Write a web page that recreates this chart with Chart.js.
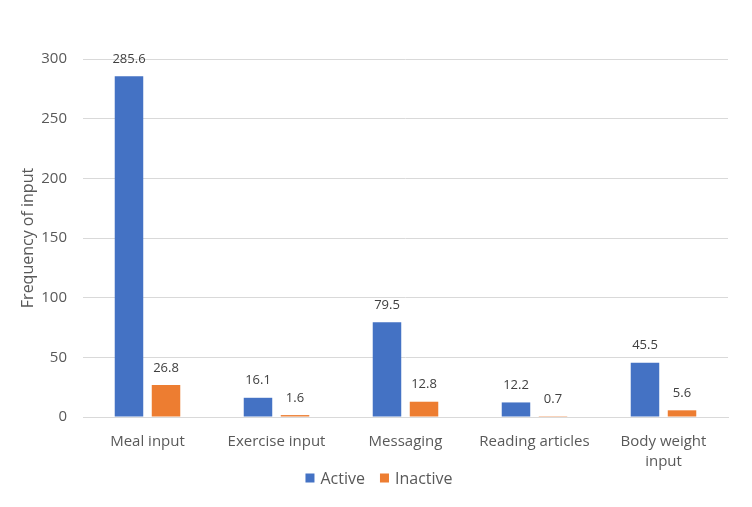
<!DOCTYPE html>
<html><head><meta charset="utf-8">
<script src="https://cdn.jsdelivr.net/npm/chart.js@4"></script>
<style>html,body{margin:0;padding:0;background:#fff}#wrap{width:752px;height:507px}</style>
</head><body><div id="wrap"><canvas id="c"></canvas></div>
<script>
const categories = [["Meal input"], ["Exercise input"], ["Messaging"], ["Reading articles"], ["Body weight", "input"]];
const activeValues = [285.6, 16.1, 79.5, 12.2, 45.5];
const inactiveValues = [26.8, 1.6, 12.8, 0.7, 5.6];
const seriesNames = ["Active", "Inactive"];

const FONT = "'Open Sans', 'Noto Sans', sans-serif";
const TEXT = '#595959';

const valueLabels = {
  id: 'valueLabels',
  afterDatasetsDraw(chart) {
    const ctx = chart.ctx;
    ctx.save();
    ctx.font = "13px " + FONT;
    ctx.fillStyle = '#404040';
    ctx.textAlign = 'center';
    ctx.textBaseline = 'middle';
    chart.data.datasets.forEach((ds, i) => {
      chart.getDatasetMeta(i).data.forEach((bar, j) => {
        ctx.fillText(ds.data[j].toFixed(1), bar.x, bar.y - 17);
      });
    });
    ctx.restore();
  }
};

const bottomLegend = {
  id: 'bottomLegend',
  afterDraw(chart) {
    const ctx = chart.ctx;
    ctx.save();
    ctx.font = "16px " + FONT;
    ctx.textBaseline = 'middle';
    ctx.textAlign = 'left';
    const box = 9, gapBoxText = 6, gapItems = 15;
    const items = chart.data.datasets.map(ds => ({ text: ds.label, color: ds.backgroundColor, w: box + gapBoxText + ctx.measureText(ds.label).width }));
    const total = items.reduce((s, it) => s + it.w, 0) + gapItems * (items.length - 1);
    let x = chart.width / 2 - total / 2 + 3;
    const y = 478;
    items.forEach(it => {
      ctx.fillStyle = it.color;
      ctx.fillRect(x, y - box / 2, box, box);
      ctx.fillStyle = TEXT;
      ctx.fillText(it.text, x + box + gapBoxText, y + 1);
      x += it.w + gapItems;
    });
    ctx.restore();
  }
};

new Chart(document.getElementById('c'), {
  type: 'bar',
  data: {
    labels: categories,
    datasets: [
      { label: seriesNames[0], data: activeValues, backgroundColor: '#4472C4', categoryPercentage: 0.574, barPercentage: 0.77 },
      { label: seriesNames[1], data: inactiveValues, backgroundColor: '#ED7D31', categoryPercentage: 0.574, barPercentage: 0.77 }
    ]
  },
  options: {
    responsive: true,
    maintainAspectRatio: false,
    animation: false,
    layout: { padding: { left: 19, right: 24, top: 59, bottom: 25 } },
    plugins: {
      legend: { display: false },
      tooltip: { enabled: false }
    },
    scales: {
      x: {
        grid: { display: false },
        border: { color: '#D9D9D9' },
        ticks: { color: TEXT, font: { family: FONT, size: 15, lineHeight: 1.333 }, maxRotation: 0, padding: 7 },
        afterFit(scale) { scale.height = 65; }
      },
      y: {
        min: 0, max: 300,
        ticks: { stepSize: 50, color: TEXT, font: { family: FONT, size: 15 }, padding: 16 },
        grid: { color: '#D9D9D9', drawTicks: false },
        border: { display: false },
        title: { display: true, text: 'Frequency of input', color: TEXT, font: { family: FONT, size: 16 }, padding: { top: 0, bottom: 0 } },
        afterFit(scale) { scale.width = 64; }
      }
    }
  },
  plugins: [valueLabels, bottomLegend]
});
</script></body></html>
